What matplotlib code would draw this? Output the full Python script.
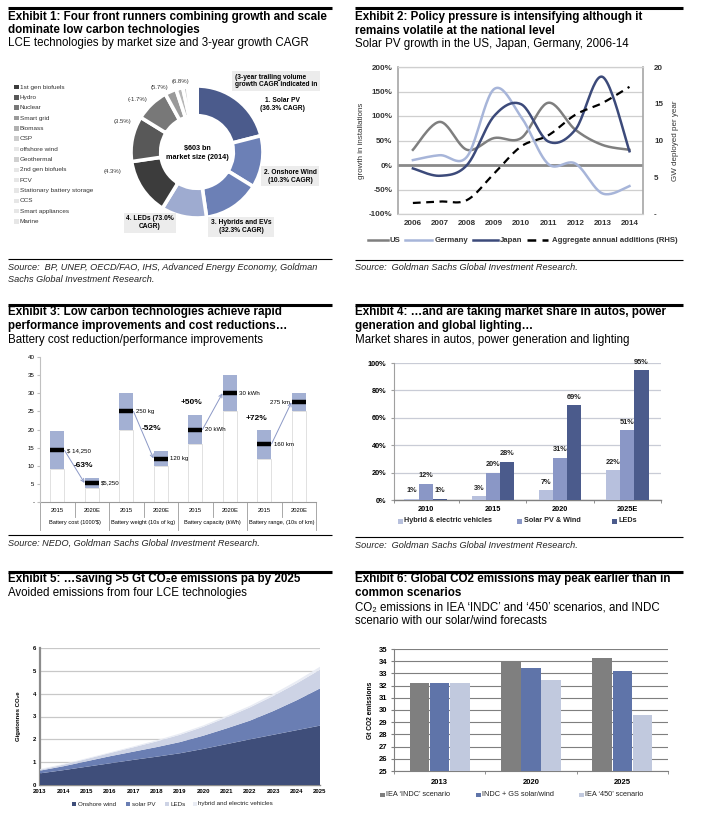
import numpy as np
import matplotlib
matplotlib.use('Agg')
import matplotlib.pyplot as plt
from matplotlib.patches import Rectangle

plt.rcParams['font.family'] = ['Liberation Sans', 'DejaVu Sans']

W, H = 705, 818
fig = plt.figure(figsize=(W / 100, H / 100), dpi=100)


def rect(l, t, r, b):
    return [l / W, 1 - b / H, (r - l) / W, (b - t) / H]

# ---------------- DATA ----------------
# Exhibit 1
e1_front = ['Solar PV', 'Onshore Wind', 'Hybrids and EVs', 'LEDs']
e1_front_size = [127, 77, 84, 67]
e1_front_cagr = ['36.3%', '10.3%', '32.3%', '73.0%']
e1_other = ['1st gen biofuels', 'Hydro', 'Nuclear', 'Smart grid', 'Biomass', 'CSP',
            'offshore wind', 'Geothermal', '2nd gen biofuels', 'FCV',
            'Stationary battery storage', 'CCS', 'Smart appliances', 'Marine']
e1_other_size = [84, 67, 50, 17, 10, 7, 5, 3.4, 2.5, 0.8, 0.8, 0.5, 0.5, 0.5]
e1_other_cagr = ['(4.3%)', '(3.5%)', '(-1.7%)', '(5.7%)', '(6.8%)']

# Exhibit 2
e2_years = [2006, 2007, 2008, 2009, 2010, 2011, 2012, 2013, 2014]
e2_us = [31, 88, 31, 55, 55, 127, 72, 41, 31]
e2_germany = [10, 20, 17, 155, 98, 2, 3, -58, -43]
e2_japan = [-7, -22, 0, 100, 124, 48, 72, 180, 28]
e2_agg = [1.5, 1.7, 1.9, 5.5, 9.2, 10.7, 13.5, 15.1, 17.3]

# Exhibit 3
e3_year = ['2015', '2020E'] * 4
e3_cat = ["Battery cost (1000'$)", 'Battery weight (10s of kg)',
          'Battery capacity (kWh)', 'Battery range, (10s of km)']
e3_low = [9, 4, 20, 10, 16, 25, 12, 25]
e3_high = [19.5, 6.5, 30, 14, 24, 35, 20, 30]
e3_val = [14.25, 5.25, 25, 12, 20, 30, 16, 27.5]
e3_vlab = ['$ 14,250', '$5,250', '250 kg', '120 kg', '20 kWh', '30 kWh', '160 km', '275 km']
e3_pct = ['-63%', '-52%', '+50%', '+72%']

# Exhibit 4
e4_groups = ['2010', '2015', '2020', '2025E']
e4_hev = [1, 3, 7, 22]
e4_solar = [12, 20, 31, 51]
e4_led = [1, 28, 69, 95]

# Exhibit 5
e5_years = [2013, 2014, 2015, 2016, 2017, 2018, 2019, 2020, 2021, 2022, 2023, 2024, 2025]
e5_wind = [0.51, 0.65, 0.8, 0.95, 1.1, 1.24, 1.39, 1.58, 1.79, 2.0, 2.2, 2.4, 2.6]
e5_solar = [0.12, 0.17, 0.24, 0.31, 0.36, 0.42, 0.49, 0.58, 0.69, 0.82, 1.04, 1.31, 1.63]
e5_led = [0.04, 0.07, 0.1, 0.14, 0.19, 0.25, 0.32, 0.39, 0.48, 0.58, 0.66, 0.74, 0.82]
e5_hev = [0.03, 0.03, 0.03, 0.03, 0.04, 0.05, 0.06, 0.06, 0.07, 0.07, 0.09, 0.11, 0.13]

# Exhibit 6
e6_groups = ['2013', '2020', '2025']
e6_indc = [32.2, 33.9, 34.3]
e6_gs = [32.2, 33.45, 33.2]
e6_450 = [32.2, 32.45, 29.55]

# ---------------- OVERLAY (pixel coords) ----------------
ov = fig.add_axes([0, 0, 1, 1], zorder=10)
ov.set_xlim(0, W)
ov.set_ylim(H, 0)
ov.axis('off')

TS = 8.4
SS = 8.3
for x0, x1, y in [(8, 332, 8), (355, 683, 8), (8, 332, 305), (355, 683, 305),
                  (8, 332, 572), (355, 683, 572)]:
    ov.plot([x0, x1], [y, y], color='black', lw=2.2, solid_capstyle='butt')
for x0, x1, y in [(8, 332, 259), (355, 683, 260), (8, 332, 535), (355, 683, 537)]:
    ov.plot([x0, x1], [y, y], color='black', lw=0.8, solid_capstyle='butt')

titles = [
    (8, 17, 'Exhibit 1: Four front runners combining growth and scale', True),
    (8, 30, 'dominate low carbon technologies', True),
    (8, 43, 'LCE technologies by market size and 3-year growth CAGR', False),
    (355, 17, 'Exhibit 2: Policy pressure is intensifying although it', True),
    (355, 31, 'remains volatile at the national level', True),
    (355, 44, 'Solar PV growth in the US, Japan, Germany, 2006-14', False),
    (8, 312, 'Exhibit 3: Low carbon technologies achieve rapid', True),
    (8, 326, 'performance improvements and cost reductions…', True),
    (8, 340, 'Battery cost reduction/performance improvements', False),
    (355, 312, 'Exhibit 4: …and are taking market share in autos, power', True),
    (355, 326, 'generation and global lighting…', True),
    (355, 340, 'Market shares in autos, power generation and lighting', False),
    (8, 579, 'Exhibit 5: …saving >5 Gt CO₂e emissions pa by 2025', True),
    (8, 593, 'Avoided emissions from four LCE technologies', False),
    (355, 579, 'Exhibit 6: Global CO2 emissions may peak earlier than in', True),
    (355, 593, 'common scenarios', True),
    (355, 607, 'CO₂ emissions in IEA ‘INDC’ and ‘450’ scenarios, and INDC', False),
    (355, 621, 'scenario with our solar/wind forecasts', False),
]
for x, y, s, b in titles:
    ov.text(x, y, s, ha='left', va='center', fontsize=TS if b else SS,
            fontweight='bold' if b else 'normal', color='black')

sources = [
    (8, 267, 'Source:  BP, UNEP, OECD/FAO, IHS, Advanced Energy Economy, Goldman'),
    (8, 280, 'Sachs Global Investment Research.'),
    (355, 268, 'Source:  Goldman Sachs Global Investment Research.'),
    (8, 543, 'Source: NEDO, Goldman Sachs Global Investment Research.'),
    (355, 545, 'Source:  Goldman Sachs Global Investment Research.'),
]
for x, y, s in sources:
    ov.text(x, y, s, ha='left', va='center', fontsize=6.6, style='italic', color='#222222')


def sq_legend(items, y, size=5, fs=5, bold=False, color='#222222'):
    for x, c, lab in items:
        ov.add_patch(Rectangle((x, y - size / 2), size, size, facecolor=c, edgecolor='none'))
        ov.text(x + size + 1.5, y, lab, ha='left', va='center', fontsize=fs,
                fontweight='bold' if bold else 'normal', color=color)

# ---------------- EXHIBIT 1 ----------------
front_cols = ['#4b5b8c', '#6c80b6', '#6c80b6', '#9eabd0']
other_cols = ['#3c3c3c', '#585858', '#787878', '#9a9a9a', '#b6b6b6', '#c9c9c9', '#d6d6d6',
              '#dddddd', '#e2e2e2', '#e6e6e6', '#e9e9e9', '#ececec', '#eeeeee', '#f0f0f0']
ax1 = fig.add_axes(rect(197 - 70, 152 - 70, 197 + 70, 152 + 70))
ax1.pie(e1_front_size + e1_other_size, colors=front_cols + other_cols, startangle=90,
        counterclock=False, radius=1,
        wedgeprops=dict(width=0.45, edgecolor='white', linewidth=2.6))
ax1.set_xlim(-70 / 66, 70 / 66)
ax1.set_ylim(-70 / 66, 70 / 66)
ax1.set_aspect('equal')
ax1.axis('off')

ov.text(197, 153, '$603 bn\nmarket size (2014)', ha='center', va='center', fontsize=5.2,
        fontweight='bold', linespacing=1.3)
box = dict(boxstyle='square,pad=0.35', fc='#ececec', ec='none')
ov.text(235, 81, '(3-year trailing volume\ngrowth CAGR indicated in', ha='left', va='center',
        fontsize=4.8, fontweight='bold', linespacing=1.15,
        bbox=dict(boxstyle='square,pad=0.45', fc='#ececec', ec='none'))
ov.text(282, 105, f'1. {e1_front[0]}\n({e1_front_cagr[0]} CAGR)', ha='center', va='center',
        fontsize=4.8, fontweight='bold', linespacing=1.2)
ov.text(290, 176, f'2. {e1_front[1]}\n({e1_front_cagr[1]} CAGR)', ha='center', va='center',
        fontsize=4.8, fontweight='bold', linespacing=1.2, bbox=box)
ov.text(241, 227, f'3. {e1_front[2]}\n({e1_front_cagr[2]} CAGR)', ha='center', va='center',
        fontsize=4.8, fontweight='bold', linespacing=1.2, bbox=box)
ov.text(150, 223, f'4. {e1_front[3]} ({e1_front_cagr[3]}\nCAGR)', ha='center', va='center',
        fontsize=4.8, fontweight='bold', linespacing=1.2, bbox=box)
for (x, y), s in zip([(112, 171), (122, 122), (138, 99), (159, 87), (180, 82)], e1_other_cagr):
    ov.text(x, y, s, ha='center', va='center', fontsize=4.3, color='#333333')

leg_cols = ['#3c3c3c', '#585858', '#787878', '#9a9a9a', '#b0b0b0', '#cccccc', '#e6e6e6',
            '#d0d0d0', '#e6e6e6', '#e6e6e6', '#e6e6e6', '#e6e6e6', '#e6e6e6', '#e6e6e6']
for i, (lab, c) in enumerate(zip(e1_other, leg_cols)):
    y = 87 + 10.35 * i
    ov.add_patch(Rectangle((14, y - 2.3), 5, 4.6, facecolor=c, edgecolor='none'))
    ov.text(20, y, lab, ha='left', va='center', fontsize=4.6, color='#333333')

# ---------------- EXHIBIT 2 ----------------


def smooth(x, y, n=24):
    x = np.asarray(x, float)
    y = np.asarray(y, float)
    P = np.column_stack([x, y])
    P = np.vstack([P[0], P, P[-1]])
    out = []
    t = np.linspace(0, 1, n, endpoint=False)
    for i in range(1, len(P) - 2):
        p0, p1, p2, p3 = P[i - 1], P[i], P[i + 1], P[i + 2]
        b1 = p1 + (p2 - p0) / 6
        b2 = p2 - (p3 - p1) / 6
        tt = t[:, None]
        seg = ((1 - tt) ** 3) * p1 + 3 * ((1 - tt) ** 2) * tt * b1 + 3 * (1 - tt) * tt ** 2 * b2 + tt ** 3 * p2
        out.append(seg)
    out.append(P[-2][None, :])
    out = np.vstack(out)
    return out[:, 0], out[:, 1]


ax2 = fig.add_axes(rect(398, 67, 643, 214))
ax2.set_xlim(2005.45, 2014.5)
ax2.set_ylim(-100, 200)
ax2.set_yticks(range(-100, 201, 50))
ax2.set_yticklabels([f'{v}%' for v in range(-100, 201, 50)])
ax2.set_xticks(e2_years)
ax2.set_xticklabels([str(v) for v in e2_years])
ax2.yaxis.grid(True, color='#cfcfcf', lw=0.9)
ax2.set_axisbelow(True)
ax2.axhline(0, color='#8a8a8a', lw=2.0, zorder=1)
for sp in ['left', 'right']:
    ax2.spines[sp].set_color('#a6a6a6')
    ax2.spines[sp].set_linewidth(1.2)
for sp in ['top', 'bottom']:
    ax2.spines[sp].set_color('#cfcfcf')
    ax2.spines[sp].set_linewidth(0.9)
ax2.tick_params(length=0, labelsize=5.8, pad=4, labelcolor='#333333')
for lab in ax2.get_xticklabels() + ax2.get_yticklabels():
    lab.set_fontweight('bold')
ax2.set_ylabel('growth in installations', fontsize=5.8, color='#333333', labelpad=3)

sx, sy = smooth(e2_years, e2_us)
ax2.plot(sx, sy, color='#7f7f7f', lw=1.8, zorder=3)
sx, sy = smooth(e2_years, e2_germany)
ax2.plot(sx, sy, color='#a7b5d9', lw=1.8, zorder=3)
sx, sy = smooth(e2_years, e2_japan)
ax2.plot(sx, sy, color='#3c4a7a', lw=1.8, zorder=4)

ax2r = ax2.twinx()
ax2r.set_ylim(0, 20)
ax2r.set_yticks([0, 5, 10, 15, 20])
ax2r.set_yticklabels(['-', '5', '10', '15', '20'])
ax2r.tick_params(length=0, labelsize=5.8, pad=8, labelcolor='#333333')
for lab in ax2r.get_yticklabels():
    lab.set_fontweight('bold')
for sp in ax2r.spines.values():
    sp.set_visible(False)
sx, sy = smooth(e2_years, e2_agg)
ax2r.plot(sx, sy, color='black', lw=1.6, ls=(0, (3.5, 2.5)), zorder=5)
ax2r.set_ylabel('GW deployed per year', fontsize=5.8, color='#333333', rotation=90, labelpad=6)

ly = 240
for x0, x1, c, ls, lab, tx in [(368, 388, '#7f7f7f', '-', 'US', 390),
                               (405, 432, '#a7b5d9', '-', 'Germany', 435),
                               (473, 498, '#3c4a7a', '-', 'Japan', 500),
                               (527, 548, 'black', (0, (3.5, 2.5)), 'Aggregate annual additions (RHS)', 552)]:
    ov.plot([x0, x1], [ly, ly], color=c, lw=1.8, ls=ls)
    ov.text(tx, ly, lab, ha='left', va='center', fontsize=5.6, fontweight='bold', color='#333333')

# ---------------- EXHIBIT 3 ----------------
ax3 = fig.add_axes(rect(40, 357, 316, 502))
x3 = np.arange(len(e3_val))
ax3.set_xlim(-0.5, 7.5)
ax3.set_ylim(0, 40)
bw = 0.42
ax3.bar(x3, e3_low, width=bw, color='white', edgecolor='#dcdcdc', lw=0.6, zorder=2)
ax3.bar(x3, np.array(e3_high) - np.array(e3_low), bottom=e3_low, width=bw,
        color='#a3b0d3', edgecolor='none', zorder=2)
ax3.hlines(e3_val, x3 - bw / 2, x3 + bw / 2, color='black', lw=3.2, zorder=4)
for i, (v, s) in enumerate(zip(e3_val, e3_vlab)):
    if i == 7:
        ax3.text(i - bw / 2 - 0.03, v, s, ha='right', va='center', fontsize=4.4, zorder=5)
    else:
        ax3.text(i + bw / 2 + 0.06, v, s, ha='left', va='center', fontsize=4.4, zorder=5)
for g in range(4):
    i1, i2 = 2 * g, 2 * g + 1
    ax3.annotate('', xy=(i2 - bw / 2, e3_val[i2]), xytext=(i1 + bw / 2, e3_val[i1]),
                 arrowprops=dict(arrowstyle='->', color='#8b98c6', lw=0.7,
                                 shrinkA=0, shrinkB=0, mutation_scale=6), zorder=3)
for (x, y), s in zip([(0.755, 10.0), (2.72, 20.3), (3.9, 27.4), (5.78, 23.1)], e3_pct):
    ax3.text(x, y, s, ha='center', va='center', fontsize=6, fontweight='bold', zorder=6)
ax3.set_yticks(range(0, 41, 5))
ax3.set_yticklabels(['-'] + [str(v) for v in range(5, 41, 5)])
ax3.set_xticks([])
ax3.tick_params(axis='y', labelsize=4.4, length=2, color='#bfbfbf', pad=2)
for sp in ['top', 'right', 'bottom']:
    ax3.spines[sp].set_visible(False)
ax3.spines['left'].set_color('#c0c0c0')
ax3.spines['left'].set_linewidth(0.8)
tr = ax3.get_xaxis_transform()
ax3.plot([-0.5, 7.5], [0, 0], transform=tr, color='#9a9a9a', lw=0.8, clip_on=False)
for xb in [0.5, 2.5, 4.5, 6.5]:
    ax3.plot([xb, xb], [0, -0.1], transform=tr, color='#9a9a9a', lw=0.6, clip_on=False)
for xb in [-0.5, 1.5, 3.5, 5.5, 7.5]:
    ax3.plot([xb, xb], [0, -0.19], transform=tr, color='#9a9a9a', lw=0.6, clip_on=False)
for i, s in enumerate(e3_year):
    ax3.text(i, -0.062, s, transform=tr, ha='center', va='center', fontsize=4.2)
for g, s in enumerate(e3_cat):
    ax3.text(2 * g + 0.5, -0.14, s, transform=tr, ha='center', va='center', fontsize=4.1)

# ---------------- EXHIBIT 4 ----------------
ax4 = fig.add_axes(rect(394, 363, 661, 500))
x4 = np.arange(len(e4_groups))
ax4.set_xlim(-0.47, 3.5)
ax4.set_ylim(0, 100)
w4 = 0.21
for off, vals, c in [(-w4, e4_hev, '#b7c0dd'), (0, e4_solar, '#8a97c6'), (w4, e4_led, '#4b5b8c')]:
    ax4.bar(x4 + off, vals, width=w4, color=c, edgecolor='none', zorder=3)
    for xi, v in zip(x4 + off, vals):
        ax4.annotate(f'{v}%', (xi, v), xytext=(0, 3), textcoords='offset points',
                     ha='center', va='bottom', fontsize=5.3, fontweight='bold', color='#222222')
ax4.set_yticks(range(0, 101, 20))
ax4.set_yticklabels([f'{v}%' for v in range(0, 101, 20)])
ax4.yaxis.grid(True, color='#c9ccd6', lw=0.9)
ax4.set_axisbelow(True)
ax4.set_xticks(x4)
ax4.set_xticklabels(e4_groups)
ax4.set_xticks([-0.47, 0.5, 1.5, 2.5, 3.5], minor=True)
ax4.tick_params(axis='x', which='major', length=0, labelsize=5.3, pad=4)
ax4.tick_params(axis='x', which='minor', length=2.5, color='#808080')
ax4.tick_params(axis='y', length=2.5, color='#a0a0a0', labelsize=5.3, pad=3)
for lab in ax4.get_xticklabels() + ax4.get_yticklabels():
    lab.set_fontweight('bold')
for sp in ['top', 'right']:
    ax4.spines[sp].set_visible(False)
ax4.spines['left'].set_color('#a0a0a0')
ax4.spines['bottom'].set_color('#808080')
ax4.spines['bottom'].set_linewidth(1.0)
sq_legend([(398, '#b7c0dd', 'Hybrid & electric vehicles'),
           (517, '#8a97c6', 'Solar PV & Wind'),
           (612, '#4b5b8c', 'LEDs')], 521, size=5, fs=5.2, bold=True)

# ---------------- EXHIBIT 5 ----------------
ax5 = fig.add_axes(rect(40, 648, 320, 785))
ax5.stackplot(e5_years, e5_wind, e5_solar, e5_led, e5_hev,
              colors=['#3f4e7a', '#6a7eb3', '#cdd3e5', '#e9ecf4'], lw=0, zorder=3)
ax5.set_xlim(2013, 2025)
ax5.set_ylim(0, 6)
ax5.set_yticks(range(0, 7))
ax5.set_xticks(e5_years)
ax5.yaxis.grid(True, color='#c8c8c8', lw=0.9)
ax5.set_axisbelow(True)
ax5.tick_params(labelsize=4.3, length=0, pad=3)
for lab in ax5.get_xticklabels() + ax5.get_yticklabels():
    lab.set_fontweight('bold')
for sp in ['top', 'right']:
    ax5.spines[sp].set_visible(False)
ax5.spines['left'].set_color('#8c8c8c')
ax5.spines['left'].set_linewidth(1.6)
ax5.spines['bottom'].set_color('#8c8c8c')
ax5.spines['bottom'].set_linewidth(1.0)
ax5.set_ylabel('Gigatonnes CO₂e', fontsize=4.3, fontweight='bold', labelpad=8)
sq_legend([(72, '#3f4e7a', 'Onshore wind'), (126, '#6a7eb3', 'solar PV'),
           (165, '#cdd3e5', 'LEDs'), (193, '#e9ecf4', 'hybrid and electric vehicles')],
          804, size=4, fs=4.5)

# ---------------- EXHIBIT 6 ----------------
ax6 = fig.add_axes(rect(394, 649, 668, 771))
x6 = np.arange(len(e6_groups))
ax6.set_xlim(-0.5, 2.5)
ax6.set_ylim(25, 35)
w6 = 0.22
for off, vals, c in [(-w6, e6_indc, '#7f7f7f'), (0, e6_gs, '#5f74a9'), (w6, e6_450, '#c1c9de')]:
    ax6.bar(x6 + off, np.array(vals) - 25, bottom=25, width=w6 - 0.005, color=c,
            edgecolor='none', zorder=3)
ax6.set_yticks(range(25, 36))
ax6.yaxis.grid(True, color='#7f7f7f', lw=0.8)
ax6.set_axisbelow(True)
ax6.set_xticks(x6)
ax6.set_xticklabels(e6_groups)
ax6.set_xticks([-0.5, 0.5, 1.5, 2.5], minor=True)
ax6.tick_params(axis='x', which='major', length=0, labelsize=5.5, pad=6)
ax6.tick_params(axis='x', which='minor', length=2.5, color='#7f7f7f')
ax6.tick_params(axis='y', length=2.5, color='#7f7f7f', labelsize=5.5, pad=2)
for lab in ax6.get_xticklabels() + ax6.get_yticklabels():
    lab.set_fontweight('bold')
for sp in ['top', 'right']:
    ax6.spines[sp].set_visible(False)
ax6.spines['left'].set_color('#7f7f7f')
ax6.spines['bottom'].set_color('#7f7f7f')
ax6.set_ylabel('Gt CO2 emissions', fontsize=4.8, fontweight='bold', labelpad=4)
sq_legend([(380, '#7f7f7f', 'IEA ‘INDC’ scenario'), (476, '#5f74a9', 'INDC + GS solar/wind'),
           (579, '#c1c9de', 'IEA ‘450’ scenario')], 795, size=4.5, fs=5.3, bold=False)

fig.savefig('out.png', dpi=100)
